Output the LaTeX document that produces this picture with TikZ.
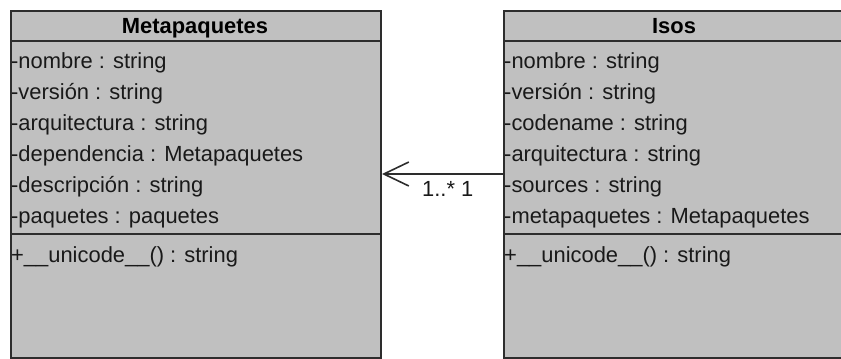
\documentclass[tikz,border=0pt]{standalone}
\usepackage{fontspec}
\setmainfont{Liberation Sans}
\usetikzlibrary{arrows.meta}
\definecolor{boxfill}{RGB}{192,192,192}
\definecolor{boxline}{RGB}{45,45,45}
\newcommand{\umlfont}{\fontsize{22}{26}\selectfont}
\tikzset{
 classbox/.style={draw=boxline,fill=boxfill,line width=2bp,inner sep=0pt,anchor=north west},
 member/.style={anchor=base west,inner sep=0pt,text=black!90},
 classname/.style={anchor=base,inner sep=0pt,font=\umlfont\bfseries},
 assoc/.style={line width=1.6bp,boxline,-{Straight Barb[length=25bp,width=24bp,line width=1.6bp]}}
}
\begin{document}
\begin{tikzpicture}[x=1bp,y=-1bp,font=\umlfont]
 \useasboundingbox (0,0) rectangle (841,358);
 \clip (0,0) rectangle (841,358);
 % classes
 \node[classbox,minimum width=370bp,minimum height=347bp] (meta) at (10,10) {};
 \node[classbox,minimum width=342bp,minimum height=347bp] (isos) at (503,10) {};
 \draw[boxline,line width=2bp] ([yshift=-31bp]meta.north west) -- ([yshift=-31bp]meta.north east);
 \draw[boxline,line width=2bp] ([yshift=-224bp]meta.north west) -- ([yshift=-224bp]meta.north east);
 \draw[boxline,line width=2bp] ([yshift=-31bp]isos.north west) -- ([yshift=-31bp]isos.north east);
 \draw[boxline,line width=2bp] ([yshift=-224bp]isos.north west) -- ([yshift=-224bp]isos.north east);
 \node[classname] (metaname) at (195,33) {Metapaquetes};
 \node[classname] (isosname) at (674,33) {Isos};
 % attributes
 \foreach \t [count=\i from 0] in {-nombre : string,-versión : string,-arquitectura : string,
   -dependencia : Metapaquetes,-descripción : string,-paquetes : paquetes}
  \node[member] (ma\i) at (11,68+31*\i) {\t};
 \foreach \t [count=\i from 0] in {-nombre : string,-versión : string,-codename : string,
   -arquitectura : string,-sources : string,-metapaquetes : Metapaquetes}
  \node[member] (ia\i) at (504,68+31*\i) {\t};
 % operations
 \node[member] (mop) at (11,262) {+\_\_unicode\_\_() : string};
 \node[member] (iop) at (504,262) {+\_\_unicode\_\_() : string};
 % association
 \coordinate (link) at (0,174);
 \draw[assoc] (isos.west |- link) -- (meta.east |- link);
 \node[member] (mult) at (422,196) {1..* 1};
\end{tikzpicture}
\end{document}
